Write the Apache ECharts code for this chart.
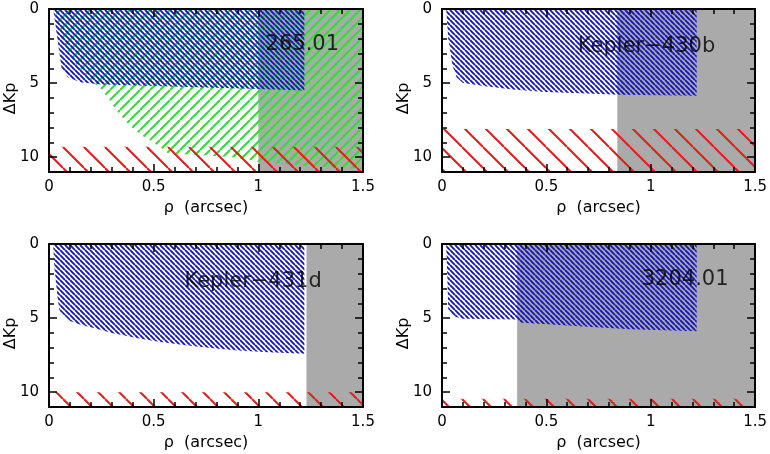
<!DOCTYPE html>
<html>
<head>
<meta charset="utf-8">
<script src="https://cdn.jsdelivr.net/npm/echarts@6/dist/echarts.min.js"></script>
<style>
  html, body { margin: 0; padding: 0; background: #fff; }
  #chart { width: 770px; height: 454px; }
</style>
</head>
<body>
<div id="chart"></div>
<script>
// panel labels and where they sit (rho, dKp)
const panelNames = ['265.01', 'Kepler\u2212430b', 'Kepler\u2212431d', '3204.01'];
const labelPos = [[1.21, 2.4], [0.98, 2.55], [0.975, 2.55], [1.165, 2.4]];

// blue hatched region: lower edge of the region (filled up to dKp = 0)
const blue265 = [[0.02, 0], [0.03, 1], [0.04, 2], [0.05, 3], [0.06, 4], [0.09, 4.6], [0.15, 4.95], [0.25, 5.1], [0.5, 5.2], [0.75, 5.3], [1.0, 5.4], [1.22, 5.5]];
const blue430 = [[0.02, 0], [0.03, 2], [0.05, 3.8], [0.07, 4.6], [0.1, 5.0], [0.2, 5.2], [0.35, 5.45], [0.5, 5.6], [0.85, 5.78], [1.22, 5.85]];
const blue431 = [[0.02, 0], [0.025, 1.5], [0.04, 3.5], [0.05, 4.5], [0.1, 5.2], [0.15, 5.45], [0.21, 5.65], [0.3, 6.0], [0.4, 6.3], [0.5, 6.55], [0.66, 6.85], [0.8, 7.05], [0.9, 7.18], [1.05, 7.3], [1.22, 7.4]];
const blue3204 = [[0.02, 0], [0.025, 2], [0.03, 4.4], [0.06, 4.9], [0.1, 5.05], [0.36, 5.1], [0.37, 5.3], [0.6, 5.5], [0.9, 5.75], [1.22, 5.88]];
const blueRegions = [blue265, blue430, blue431, blue3204];

// green hatched region, only in 265.01
const green265 = [[0.03, 0], [0.06, 2], [0.12, 3.6], [0.2, 4.8], [0.25, 5.4], [0.32, 6.8], [0.38, 7.8], [0.44, 8.5], [0.53, 9.3], [0.57, 9.75], [0.72, 9.85], [0.88, 10.0], [1.0, 10.3], [1.25, 10.6], [1.5, 10.8]];

// gray band starts at this separation
const grayStart = [1.0, 0.84, 1.23, 0.36];
// red hatched band starts at this dKp
const redTop = [9.3, 8.1, 10.0, 10.45];

const FONT = 'DejaVu Sans';

function hatch(color, step, width, dir) {
  const c = document.createElement('canvas');
  c.width = step;
  c.height = step;
  const ctx = c.getContext('2d');
  ctx.strokeStyle = color;
  ctx.lineWidth = width;
  ctx.beginPath();
  for (let k = -1; k <= 1; k++) {
    if (dir > 0) {
      ctx.moveTo(0, k * step);
      ctx.lineTo(step, step + k * step);
    } else {
      ctx.moveTo(0, step + k * step);
      ctx.lineTo(step, k * step);
    }
  }
  ctx.stroke();
  return { image: c, repeat: 'repeat' };
}

const bluePat = hatch('#1616be', 5, 1.9, 1);
const greenPat = hatch('#38d838', 10, 2, -1);
const redPat = hatch('#e01e1a', 21, 2, 1);

const grids = [
  { left: 49, top: 9, width: 314, height: 163 },
  { left: 442, top: 9, width: 314, height: 163 },
  { left: 49, top: 244, width: 314, height: 163 },
  { left: 442, top: 244, width: 314, height: 163 }
];

function xAx(g, pos, labels) {
  return {
    gridIndex: g, type: 'value', position: pos, min: 0, max: 1.5, interval: 0.5, z: 10,
    name: labels ? '\u03c1  (arcsec)' : '', nameLocation: 'middle', nameGap: 28, nameMoveOverlap: false,
    nameTextStyle: { fontFamily: FONT, fontSize: 16, color: '#000' },
    axisLine: { show: true, onZero: false, lineStyle: { color: '#000', width: 2 } },
    axisTick: { show: true, inside: true, length: 8, lineStyle: { color: '#000', width: 1.5 } },
    minorTick: { show: true, splitNumber: 5, length: 5, lineStyle: { color: '#000', width: 1.5 } },
    axisLabel: { show: labels, fontFamily: FONT, fontSize: 15, color: '#000', margin: 8 },
    splitLine: { show: false }
  };
}

function yAx(g, pos, labels) {
  return {
    gridIndex: g, type: 'value', position: pos, inverse: true, min: 0, max: 11, interval: 5, z: 10,
    name: labels ? '\u0394Kp' : '', nameLocation: 'middle', nameGap: 30, nameRotate: 90, nameMoveOverlap: false,
    nameTextStyle: { fontFamily: FONT, fontSize: 16, color: '#000', padding: [0, 16, 0, 0] },
    axisLine: { show: true, onZero: false, lineStyle: { color: '#000', width: 2 } },
    axisTick: { show: true, inside: true, length: 8, lineStyle: { color: '#000', width: 1.5 } },
    minorTick: { show: true, splitNumber: 5, length: 5, lineStyle: { color: '#000', width: 1.5 } },
    axisLabel: { show: labels, showMaxLabel: false, fontFamily: FONT, fontSize: 15, color: '#000', margin: 10 },
    splitLine: { show: false }
  };
}

function area(i, data, fill, origin, z) {
  return {
    type: 'line', xAxisIndex: 2 * i, yAxisIndex: 2 * i, data: data,
    symbol: 'none', silent: true, z: z,
    lineStyle: { width: 0, opacity: 0 },
    areaStyle: { color: fill, opacity: 1, origin: origin }
  };
}

const xAxes = [], yAxes = [], series = [];
for (let i = 0; i < 4; i++) {
  xAxes.push(xAx(i, 'bottom', true), xAx(i, 'top', false));
  yAxes.push(yAx(i, 'left', true), yAx(i, 'right', false));

  series.push(area(i, [[grayStart[i], 0], [1.5, 0]], '#aaaaaa', 'end', 1));
  if (i === 0) series.push(area(i, green265, greenPat, 'start', 2));
  series.push(area(i, blueRegions[i], bluePat, 'start', 3));
  series.push(area(i, [[0, redTop[i]], [1.5, redTop[i]]], redPat, 'end', 3));
  series.push({
    type: 'scatter', xAxisIndex: 2 * i, yAxisIndex: 2 * i, data: [labelPos[i]],
    symbolSize: 1, silent: true, z: 5,
    itemStyle: { color: 'rgba(0,0,0,0)' },
    label: { show: true, position: 'inside', formatter: panelNames[i], fontFamily: FONT, fontSize: 21, color: '#000' }
  });
}

const chart = echarts.init(document.getElementById('chart'));
chart.setOption({
  animation: false,
  backgroundColor: '#fff',
  grid: grids,
  xAxis: xAxes,
  yAxis: yAxes,
  series: series
});
</script>
</body>
</html>
